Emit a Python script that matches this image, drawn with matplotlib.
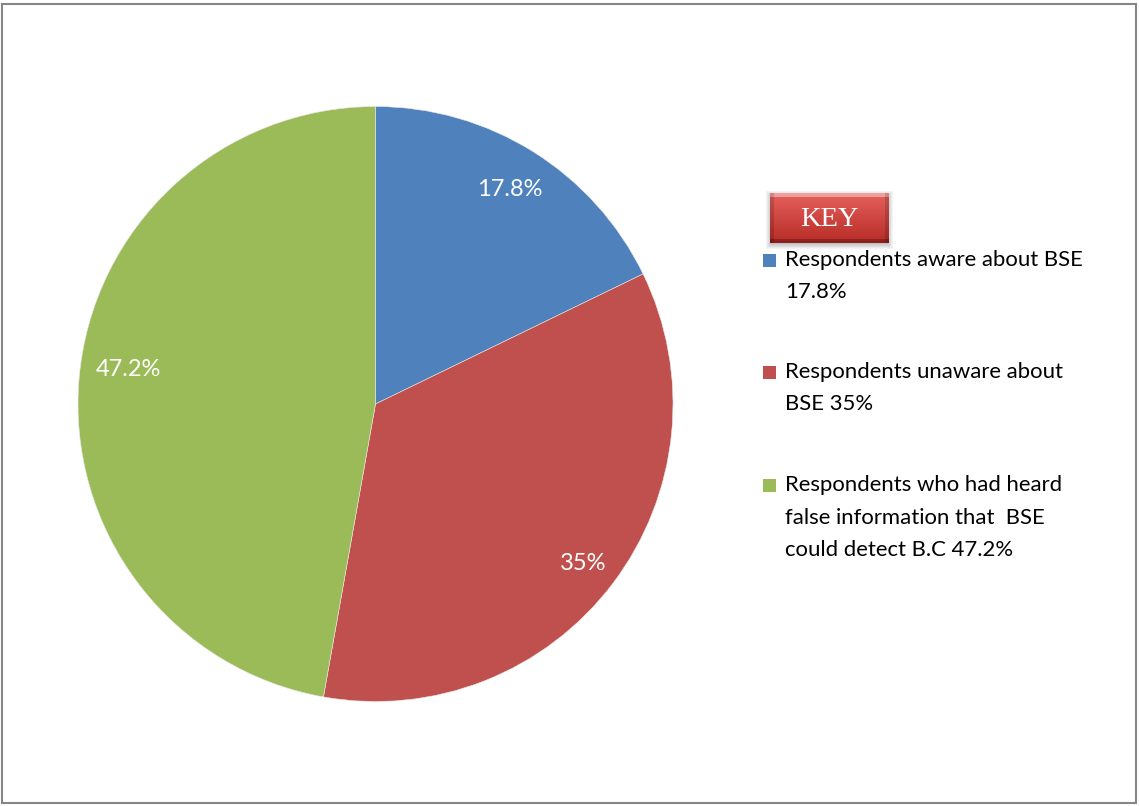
import numpy as np
import matplotlib
matplotlib.use("Agg")
import matplotlib.pyplot as plt
from matplotlib.patches import Rectangle

# survey shares on breast self-examination (BSE)
shares = [17.8, 35.0, 47.2]
slice_labels = ["17.8%", "35%", "47.2%"]
key_lines = [
    ["Respondents aware about BSE", "17.8%"],
    ["Respondents unaware about", "BSE 35%"],
    ["Respondents who had heard", "false information that  BSE", "could detect B.C 47.2%"],
]
colors = ["#4F81BD", "#C0504D", "#9BBB59"]

W, H = 1139, 806
plt.rcParams["font.family"] = ["Lato", "DejaVu Sans"]

fig = plt.figure(figsize=(W / 100, H / 100), dpi=100)

def fx(px):
    return px / W

def fy(py):
    return 1 - py / H

# outer frame
fig.patches.append(Rectangle((fx(2), fy(803)), fx(1136) - fx(2), fy(4) - fy(803),
                             transform=fig.transFigure, fill=False,
                             edgecolor="#868686", lw=1.5))

# pie
cx, cy, r = 375.5, 404, 297.5
ax = fig.add_axes([fx(cx - r), fy(cy + r), 2 * r / W, 2 * r / H])
wedges, texts = ax.pie(shares, colors=colors, startangle=90, counterclock=False,
                       radius=1.0, labels=slice_labels, labeldistance=None,
                       wedgeprops=dict(edgecolor="#e8e8e8", linewidth=0.4))
ax.set_xlim(-1, 1)
ax.set_ylim(-1, 1)
ax.set_aspect("equal")
ax.axis("off")

# value labels inside the slices (radius, angle in degrees)
label_pos = [(0.85, 57.9), (0.88, -37.5), (0.84, 172.0)]
for lab, (lr, ang) in zip(slice_labels, label_pos):
    a = np.deg2rad(ang)
    ax.text(lr * np.cos(a), lr * np.sin(a), lab, color="white",
            fontsize=17, ha="center", va="center")

# KEY badge: bevelled red button drawn as an image
bw, bh = 119, 50
t = np.linspace(0, 1, bh)[:, None]
top = np.array([0.90, 0.38, 0.36])
bot = np.array([0.72, 0.17, 0.15])
badge = top * (1 - t[..., None]) + bot * t[..., None]
badge = np.repeat(badge, bw, axis=1)
bev = 4
badge[:bev] = badge[:bev] * 0.6 + 0.4
badge[-bev:] *= 0.75
badge[:, :bev] *= 0.85
badge[:, -bev:] *= 0.85
badge = np.clip(badge, 0, 1)

sh = np.zeros((bh + 8, bw + 8, 4))
sh[..., :3] = 0.45
yy, xx = np.mgrid[0:bh + 8, 0:bw + 8]
edge = np.minimum.reduce([xx + 1, bw + 8 - xx, yy + 1, bh + 8 - yy]).astype(float)
sh[..., 3] = np.clip(edge / 6, 0, 1) * 0.45
fig.figimage(sh, xo=766, yo=H - 193 - bh - 6, origin="upper", zorder=1)
fig.figimage(badge, xo=770, yo=H - 193 - bh, origin="upper", zorder=2)
fig.text(fx(829), fy(220), "KEY", color="white", fontsize=20.5,
         family=["Liberation Serif", "DejaVu Serif"], ha="center", va="center",
         zorder=5)

# legend entries
line_h = 32.5
starts = [260, 372, 485]
for y0, lines, col in zip(starts, key_lines, colors):
    fig.patches.append(Rectangle((fx(763), fy(y0 + 7)), 13 / W, 13 / H,
                                 transform=fig.transFigure, facecolor=col,
                                 edgecolor="none"))
    for i, ln in enumerate(lines):
        fig.text(fx(785), fy(y0 + i * line_h), ln, fontsize=15.9,
                 color="black", ha="left", va="center")

fig.savefig("out.png", dpi=100)
